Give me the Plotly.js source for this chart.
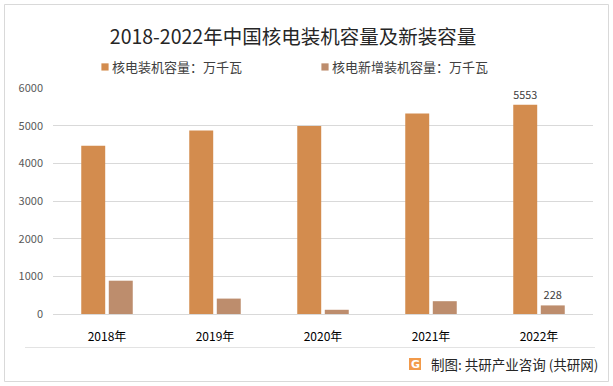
<!DOCTYPE html>
<html><head><meta charset="utf-8">
<script src="https://cdn.plot.ly/plotly-3.0.1.min.js"></script>
<style>html,body{margin:0;padding:0;background:#fff}#chart{width:613px;height:386px}</style>
</head><body><div id="chart"></div>
<script>
const years = ['2018年','2019年','2020年','2021年','2022年'];
const installed = [4466, 4874, 4989, 5326, 5553];
const added = [884, 409, 112, 340, 228];
const seriesNames = ['核电装机容量：万千瓦','核电新增装机容量：万千瓦'];
const yTicks = [0,1000,2000,3000,4000,5000,6000];
const labeledIndex = 4;
const titleText = '2018-2022年中国核电装机容量及新装容量';
const sourceText = '制图: 共研产业咨询 (共研网)';

const L=53,R=593,T=88,B=314;
const W=R-L,H=B-T;
const px = x => (x-L)/W;
const py = y => (B-y)/H;
const FONT = '"Noto Sans CJK SC", "Noto Sans", sans-serif';

const labelsFor = arr => arr.map((v,i)=> i===labeledIndex ? String(v) : '');

const traces = [
  {type:'bar', name:seriesNames[0], x:years, y:installed, marker:{color:'#D38C4E'},
   text:labelsFor(installed), textposition:'outside', cliponaxis:false,
   textfont:{size:11,color:'#404040',family:FONT}, hoverinfo:'none'},
  {type:'bar', name:seriesNames[1], x:years, y:added, marker:{color:'#BD8D6D'},
   text:labelsFor(added), textposition:'outside', cliponaxis:false,
   textfont:{size:11,color:'#404040',family:FONT}, hoverinfo:'none'}
];

const layout = {
  width:613, height:386,
  margin:{l:L, r:613-R, t:T, b:386-B, pad:0},
  paper_bgcolor:'#fff', plot_bgcolor:'#fff',
  font:{family:FONT},
  barmode:'group', bargap:0.49, bargroupgap:0.13,
  title:{text:titleText, x:293/613, xanchor:'center', xref:'container',
         y:1-37/386, yanchor:'middle', yref:'container',
         font:{size:19.5,color:'#262626',family:FONT}},
  xaxis:{type:'category', showline:false, showgrid:false, zeroline:false, ticks:'',
         tickfont:{size:12,color:'#000',family:FONT}, ticklabelstandoff:14, fixedrange:true},
  yaxis:{range:[0,6000], tickvals:yTicks, ticktext:yTicks.map(String), showline:false,
         gridcolor:'#D9D9D9', gridwidth:1, zeroline:true, zerolinecolor:'#D9D9D9', zerolinewidth:1,
         ticks:'', tickfont:{size:11,color:'#595959',family:FONT}, ticklabelstandoff:9, fixedrange:true},
  showlegend:true,
  legend:{orientation:'h', x:px(72), xanchor:'left', y:py(67), yanchor:'middle',
          font:{size:13,color:'#404040',family:FONT}, entrywidth:175, entrywidthmode:'pixels',
          itemwidth:30, bgcolor:'rgba(0,0,0,0)'},
  shapes:[
    {type:'rect', xref:'paper', yref:'paper', x0:px(4.5), x1:px(608.5), y0:py(381.5), y1:py(4.5),
     line:{color:'#D9D9D9', width:1}, fillcolor:'rgba(0,0,0,0)', layer:'below'},
    {type:'line', xref:'paper', yref:'paper', x0:px(25), x1:px(595), y0:py(347.5), y1:py(347.5),
     line:{color:'#E3E3E3', width:1}},
    {type:'rect', xref:'paper', yref:'paper', x0:px(409), x1:px(421), y0:py(370), y1:py(358),
     line:{width:0}, fillcolor:'#F29A4A'}
  ],
  annotations:[
    {xref:'paper', yref:'paper', x:px(415), y:py(364), text:'<b>G</b>', showarrow:false,
     xanchor:'center', yanchor:'middle', font:{size:11,color:'#fff',family:'DejaVu Sans'}},
    {xref:'paper', yref:'paper', x:px(429), y:py(364), text:sourceText, showarrow:false,
     xanchor:'left', yanchor:'middle', font:{size:13.5,color:'#262626',family:FONT}}
  ]
};

Plotly.newPlot('chart', traces, layout, {displayModeBar:false, staticPlot:true}).then(gd => {
  // make legend swatches small squares sitting close to their labels, as in the reference
  gd.querySelectorAll('.legend .legendpoints').forEach(g => {
    g.setAttribute('transform', 'translate(21,0) scale(0.6)');
  });
});
</script></body></html>
